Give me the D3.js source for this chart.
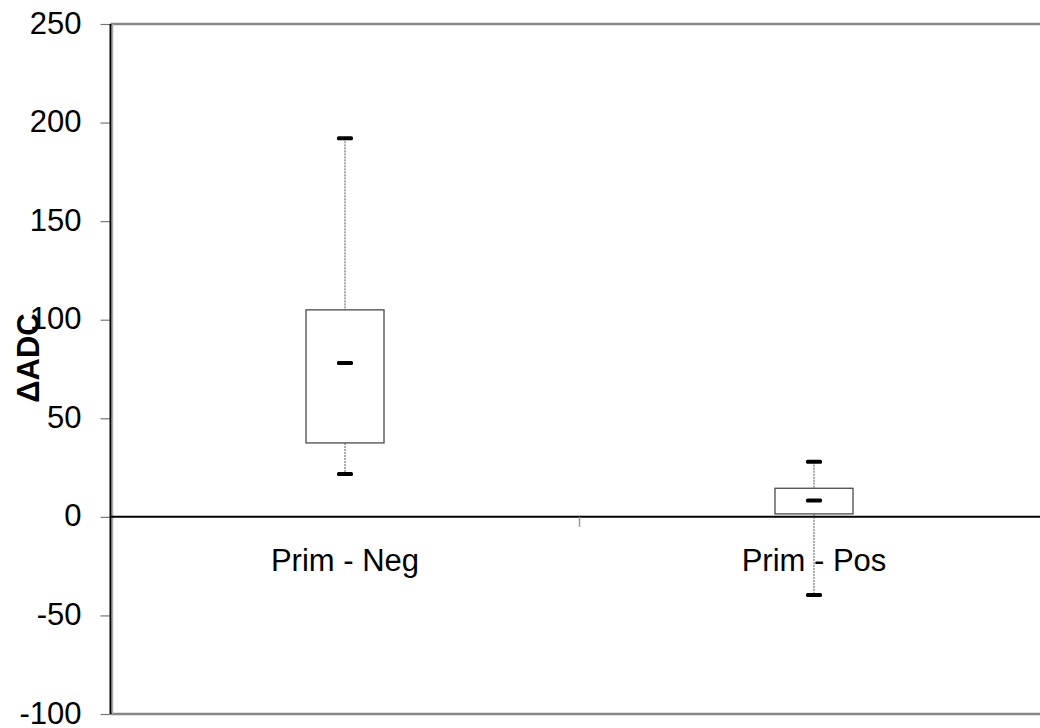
<!DOCTYPE html>
<html>
<head>
<meta charset="utf-8">
<script src="https://cdn.jsdelivr.net/npm/d3@7"></script>
<style>
  html, body { margin: 0; padding: 0; background: #fff; }
  svg { display: block; }
  text { font-family: "Liberation Sans", Arial, sans-serif; }
</style>
</head>
<body>
<svg id="chart" width="1040" height="728"></svg>
<script>
// Box-plot statistics per group
const categories = ["Prim - Neg", "Prim - Pos"];
const maxValues    = [192, 28];
const q3Values     = [105, 14.5];
const medianValues = [78, 8.3];
const q1Values     = [37.5, 1.5];
const minValues    = [21.7, -39.7];
const yTicks = [-100, -50, 0, 50, 100, 150, 200, 250];
const yTitle = "ΔADC";

const rows = categories.map((c, i) => ({
  cat: c, max: maxValues[i], q3: q3Values[i], med: medianValues[i],
  q1: q1Values[i], min: minValues[i]
}));

(function draw() {
  const svg = d3.select("#chart");
  const plotLeft = 110.5, plotRight = 1048.5, plotTop = 24, plotBottom = 714;

  const y = d3.scaleLinear().domain([-100, 250]).range([plotBottom, plotTop]);
  const x = d3.scaleBand().domain(categories).range([plotLeft, plotRight]).padding(0);
  const bw = x.bandwidth();
  const boxW = 78;

  // plot-area frame (top and bottom edges)
  svg.append("line").attr("x1", plotLeft).attr("x2", 1040).attr("y1", plotTop).attr("y2", plotTop)
    .attr("stroke", "#888").attr("stroke-width", 2.5);
  svg.append("line").attr("x1", plotLeft).attr("x2", 1040).attr("y1", plotBottom).attr("y2", plotBottom)
    .attr("stroke", "#888").attr("stroke-width", 2.5);

  // value axis (plain hyphen for negative numbers)
  const yAxis = d3.axisLeft(y).tickValues(yTicks).tickSize(10).tickPadding(19)
    .tickFormat(d => String(d));
  const gy = svg.append("g").attr("transform", `translate(${plotLeft},0)`).call(yAxis);
  gy.select(".domain").remove();
  gy.selectAll(".tick line").attr("stroke", "#777").attr("stroke-width", 1.2);
  gy.selectAll(".tick text").attr("font-size", 31).attr("fill", "#000").attr("dy", "0.29em")
    .style("font-family", "'Liberation Sans', Arial, sans-serif");
  // axis line with a light shadow on its right side
  svg.append("line").attr("x1", plotLeft + 2).attr("x2", plotLeft + 2).attr("y1", plotTop).attr("y2", plotBottom)
    .attr("stroke", "#aaa").attr("stroke-width", 1.5);
  svg.append("line").attr("x1", plotLeft).attr("x2", plotLeft).attr("y1", plotTop).attr("y2", plotBottom)
    .attr("stroke", "#000").attr("stroke-width", 2);

  // category axis along zero
  const xAxis = d3.axisBottom(x).tickSize(0).tickPadding(32);
  const gx = svg.append("g").attr("transform", `translate(0,${y(0)})`).call(xAxis);
  gx.select(".domain").remove();
  gx.selectAll(".tick text").attr("font-size", 31).attr("fill", "#000")
    .style("font-family", "'Liberation Sans', Arial, sans-serif");
  svg.append("line").attr("x1", plotLeft).attr("x2", 1040).attr("y1", y(0)).attr("y2", y(0))
    .attr("stroke", "#000").attr("stroke-width", 2);
  // divider tick between the two groups
  svg.append("line").attr("x1", plotLeft + bw).attr("x2", plotLeft + bw)
    .attr("y1", y(0)).attr("y2", y(0) + 10)
    .attr("stroke", "#999").attr("stroke-width", 1.5);

  // boxes
  const g = svg.append("g");
  rows.forEach(d => {
    const cx = x(d.cat) + bw / 2;
    // whiskers
    g.append("line").attr("x1", cx).attr("x2", cx).attr("y1", y(d.max)).attr("y2", y(d.q3))
      .attr("stroke", "#555").attr("stroke-width", 1).attr("stroke-dasharray", "2,1");
    g.append("line").attr("x1", cx).attr("x2", cx).attr("y1", y(d.q1)).attr("y2", y(d.min))
      .attr("stroke", "#555").attr("stroke-width", 1).attr("stroke-dasharray", "2,1");
    // box
    g.append("rect").attr("x", cx - boxW / 2).attr("width", boxW)
      .attr("y", y(d.q3)).attr("height", y(d.q1) - y(d.q3))
      .attr("fill", "none").attr("stroke", "#4a4a4a").attr("stroke-width", 1.3);
    // markers for max, median, min
    [d.max, d.med, d.min].forEach(v => {
      g.append("rect").attr("x", cx - 8).attr("width", 16)
        .attr("y", y(v) - 2).attr("height", 4).attr("rx", 1.5)
        .attr("fill", "#000");
    });
  });

  // value-axis title
  svg.append("text")
    .attr("transform", `translate(39,358) rotate(-90)`)
    .attr("text-anchor", "middle")
    .attr("font-size", 31).attr("font-weight", "bold").attr("fill", "#000")
    .text(yTitle);
})();
</script>
</body>
</html>
